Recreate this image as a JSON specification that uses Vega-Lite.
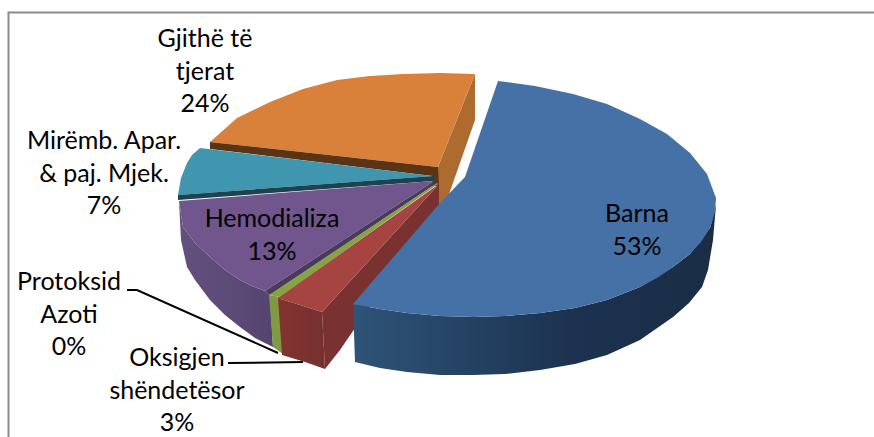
{"$schema":"https://vega.github.io/schema/vega-lite/v6.json","width":874,"height":437,"padding":0,"autosize":{"type":"none"},"background":"white","view":{"stroke":null},
"datasets":{"outline":[
{"f":"frame","i":0,"x":8.5,"y":437},{"f":"frame","i":1,"x":8.5,"y":12.5},{"f":"frame","i":2,"x":874,"y":12.5},
{"f":"oside","i":0,"x":475,"y":74},{"f":"oside","i":1,"x":475,"y":120},{"f":"oside","i":2,"x":447,"y":200},{"f":"oside","i":3,"x":438,"y":208},{"f":"oside","i":4,"x":438,"y":167},
{"f":"otop","i":0,"x":475,"y":74},{"f":"otop","i":1,"x":440,"y":73},{"f":"otop","i":2,"x":403,"y":74},{"f":"otop","i":3,"x":370,"y":76},{"f":"otop","i":4,"x":337,"y":80},{"f":"otop","i":5,"x":303,"y":89},{"f":"otop","i":6,"x":270,"y":102},{"f":"otop","i":7,"x":237,"y":118},{"f":"otop","i":8,"x":210,"y":142},{"f":"otop","i":9,"x":438,"y":167},
{"f":"ostrip","i":0,"x":210,"y":142},{"f":"ostrip","i":1,"x":438,"y":167},{"f":"ostrip","i":2,"x":439,"y":186},{"f":"ostrip","i":3,"x":432,"y":186},{"f":"ostrip","i":4,"x":432,"y":176},{"f":"ostrip","i":5,"x":210,"y":149},
{"f":"ttop","i":0,"x":200,"y":148},{"f":"ttop","i":1,"x":192,"y":155},{"f":"ttop","i":2,"x":187,"y":163},{"f":"ttop","i":3,"x":181,"y":178},{"f":"ttop","i":4,"x":178,"y":195},{"f":"ttop","i":5,"x":433,"y":176},
{"f":"tstrip","i":0,"x":178,"y":195},{"f":"tstrip","i":1,"x":433,"y":176},{"f":"tstrip","i":2,"x":434,"y":181},{"f":"tstrip","i":3,"x":178,"y":200},
{"f":"pside","i":0,"x":179,"y":201},{"f":"pside","i":1,"x":183,"y":227},{"f":"pside","i":2,"x":195,"y":243},{"f":"pside","i":3,"x":210,"y":257},{"f":"pside","i":4,"x":225,"y":270},{"f":"pside","i":5,"x":240,"y":280},{"f":"pside","i":6,"x":252,"y":286},{"f":"pside","i":7,"x":265,"y":291},{"f":"pside","i":8,"x":270,"y":295},{"f":"pside","i":9,"x":273,"y":347},{"f":"pside","i":10,"x":255,"y":338},{"f":"pside","i":11,"x":240,"y":327},{"f":"pside","i":12,"x":225,"y":315},{"f":"pside","i":13,"x":210,"y":300},{"f":"pside","i":14,"x":195,"y":280},{"f":"pside","i":15,"x":187,"y":267},{"f":"pside","i":16,"x":181,"y":240},
{"f":"ptop","i":0,"x":179,"y":201},{"f":"ptop","i":1,"x":183,"y":227},{"f":"ptop","i":2,"x":195,"y":243},{"f":"ptop","i":3,"x":210,"y":257},{"f":"ptop","i":4,"x":225,"y":270},{"f":"ptop","i":5,"x":240,"y":280},{"f":"ptop","i":6,"x":252,"y":286},{"f":"ptop","i":7,"x":265,"y":291},{"f":"ptop","i":8,"x":434,"y":181},
{"f":"pstrip","i":0,"x":265,"y":291},{"f":"pstrip","i":1,"x":270,"y":295},{"f":"pstrip","i":2,"x":437,"y":183},{"f":"pstrip","i":3,"x":434,"y":181},
{"f":"gside","i":0,"x":269,"y":295},{"f":"gside","i":1,"x":280,"y":297},{"f":"gside","i":2,"x":283,"y":354},{"f":"gside","i":3,"x":273,"y":347},
{"f":"gtop","i":0,"x":269,"y":295},{"f":"gtop","i":1,"x":280,"y":297},{"f":"gtop","i":2,"x":438,"y":184},{"f":"gtop","i":3,"x":437,"y":183},
{"f":"rright","i":0,"x":439,"y":184},{"f":"rright","i":1,"x":439,"y":205},{"f":"rright","i":2,"x":340,"y":350},{"f":"rright","i":3,"x":325,"y":369},{"f":"rright","i":4,"x":322,"y":312},
{"f":"rtop","i":0,"x":439,"y":184},{"f":"rtop","i":1,"x":278,"y":298},{"f":"rtop","i":2,"x":322,"y":312},
{"f":"rfront","i":0,"x":278,"y":298},{"f":"rfront","i":1,"x":322,"y":312},{"f":"rfront","i":2,"x":325,"y":369},{"f":"rfront","i":3,"x":305,"y":362},{"f":"rfront","i":4,"x":282,"y":355},
{"f":"bside","i":0,"x":353,"y":304},{"f":"bside","i":1,"x":380,"y":309},{"f":"bside","i":2,"x":407,"y":313},{"f":"bside","i":3,"x":440,"y":316},{"f":"bside","i":4,"x":473,"y":317},{"f":"bside","i":5,"x":505,"y":316},{"f":"bside","i":6,"x":540,"y":313},{"f":"bside","i":7,"x":575,"y":308},{"f":"bside","i":8,"x":607,"y":300},{"f":"bside","i":9,"x":640,"y":287},{"f":"bside","i":10,"x":673,"y":267},{"f":"bside","i":11,"x":690,"y":254},{"f":"bside","i":12,"x":710,"y":228},{"f":"bside","i":13,"x":716,"y":205},{"f":"bside","i":14,"x":713,"y":240},{"f":"bside","i":15,"x":708,"y":270},{"f":"bside","i":16,"x":702,"y":287},{"f":"bside","i":17,"x":689,"y":303},{"f":"bside","i":18,"x":673,"y":317},{"f":"bside","i":19,"x":640,"y":340},{"f":"bside","i":20,"x":607,"y":355},{"f":"bside","i":21,"x":575,"y":364},{"f":"bside","i":22,"x":540,"y":370},{"f":"bside","i":23,"x":505,"y":374},{"f":"bside","i":24,"x":473,"y":375},{"f":"bside","i":25,"x":440,"y":375},{"f":"bside","i":26,"x":407,"y":372},{"f":"bside","i":27,"x":380,"y":368},{"f":"bside","i":28,"x":355,"y":362},
{"f":"btop","i":0,"x":498,"y":81},{"f":"btop","i":1,"x":535,"y":86},{"f":"btop","i":2,"x":573,"y":94},{"f":"btop","i":3,"x":607,"y":104},{"f":"btop","i":4,"x":640,"y":119},{"f":"btop","i":5,"x":667,"y":134},{"f":"btop","i":6,"x":690,"y":153},{"f":"btop","i":7,"x":707,"y":174},{"f":"btop","i":8,"x":716,"y":198},{"f":"btop","i":9,"x":715,"y":212},{"f":"btop","i":10,"x":710,"y":228},{"f":"btop","i":11,"x":701,"y":242},{"f":"btop","i":12,"x":690,"y":254},{"f":"btop","i":13,"x":673,"y":267},{"f":"btop","i":14,"x":657,"y":278},{"f":"btop","i":15,"x":640,"y":287},{"f":"btop","i":16,"x":607,"y":300},{"f":"btop","i":17,"x":575,"y":308},{"f":"btop","i":18,"x":540,"y":313},{"f":"btop","i":19,"x":505,"y":316},{"f":"btop","i":20,"x":473,"y":317},{"f":"btop","i":21,"x":440,"y":316},{"f":"btop","i":22,"x":407,"y":313},{"f":"btop","i":23,"x":380,"y":309},{"f":"btop","i":24,"x":353,"y":304},{"f":"btop","i":25,"x":440,"y":203},{"f":"btop","i":26,"x":465,"y":177},
{"f":"lead1","i":0,"x":127,"y":290},{"f":"lead1","i":1,"x":137,"y":290},{"f":"lead1","i":2,"x":278,"y":353},
{"f":"lead2","i":0,"x":228,"y":363},{"f":"lead2","i":1,"x":303,"y":362}
],
"slices":[
{"name":"Barna","share":53,"label":"Barna\n53%","x":637,"y":214},
{"name":"Gjithë të tjerat","share":24,"label":"Gjithë të\ntjerat\n24%","x":205,"y":39},
{"name":"Mirëmb. Apar. & paj. Mjek.","share":7,"label":"Mirëmb. Apar.\n& paj. Mjek.\n7%","x":104,"y":141},
{"name":"Hemodializa","share":13,"label":"Hemodializa\n13%","x":272,"y":219},
{"name":"Protoksid Azoti","share":0,"label":"Protoksid\nAzoti\n0%","x":69,"y":282},
{"name":"Oksigjen shëndetësor","share":3,"label":"Oksigjen\nshëndetësor\n3%","x":177,"y":358}
]},
"data":{"name":"outline"},
"encoding":{"x":{"field":"x","type":"quantitative","scale":{"domain":[0,874],"nice":false,"zero":false},"axis":null},"y":{"field":"y","type":"quantitative","scale":{"domain":[437,0],"nice":false,"zero":false},"axis":null},"order":{"field":"i","type":"quantitative"}},
"layer":[
{"transform":[{"filter":"datum.f=='oside'"}],"mark":{"type":"line","fill":"#AE6B30","stroke":null}},
{"transform":[{"filter":"datum.f=='otop'"}],"mark":{"type":"line","fill":"#D9813B","stroke":null}},
{"transform":[{"filter":"datum.f=='ostrip'"}],"mark":{"type":"line","fill":"#5B3416","stroke":null}},
{"transform":[{"filter":"datum.f=='ttop'"}],"mark":{"type":"line","fill":"#3F96AE","stroke":null}},
{"transform":[{"filter":"datum.f=='tstrip'"}],"mark":{"type":"line","fill":"#1B4450","stroke":null}},
{"transform":[{"filter":"datum.f=='pside'"}],"mark":{"type":"line","stroke":null,"fill":{"gradient":"linear","x1":0,"x2":1,"y1":0,"y2":0,"stops":[{"offset":0,"color":"#64507F"},{"offset":1,"color":"#554470"}]}}},
{"transform":[{"filter":"datum.f=='ptop'"}],"mark":{"type":"line","fill":"#71568D","stroke":null}},
{"transform":[{"filter":"datum.f=='pstrip'"}],"mark":{"type":"line","fill":"#4A3A5E","stroke":null}},
{"transform":[{"filter":"datum.f=='gside'"}],"mark":{"type":"line","fill":"#7F9A42","stroke":null}},
{"transform":[{"filter":"datum.f=='gtop'"}],"mark":{"type":"line","fill":"#84A446","stroke":null}},
{"transform":[{"filter":"datum.f=='rright'"}],"mark":{"type":"line","fill":"#7A3230","stroke":null}},
{"transform":[{"filter":"datum.f=='rtop'"}],"mark":{"type":"line","fill":"#A54441","stroke":null}},
{"transform":[{"filter":"datum.f=='rfront'"}],"mark":{"type":"line","stroke":null,"fill":{"gradient":"linear","x1":0,"x2":1,"y1":0,"y2":0,"stops":[{"offset":0,"color":"#83342F"},{"offset":1,"color":"#753030"}]}}},
{"transform":[{"filter":"datum.f=='bside'"}],"mark":{"type":"line","stroke":null,"fill":{"gradient":"linear","x1":0,"x2":1,"y1":0,"y2":0,"stops":[{"offset":0,"color":"#2E5478"},{"offset":0.6,"color":"#1C3250"},{"offset":1,"color":"#1A2D45"}]}}},
{"transform":[{"filter":"datum.f=='btop'"}],"mark":{"type":"line","fill":"#4571A6","stroke":null}},
{"transform":[{"filter":"datum.f=='lead1'"}],"mark":{"type":"line","stroke":"#000000","strokeWidth":2}},
{"transform":[{"filter":"datum.f=='lead2'"}],"mark":{"type":"line","stroke":"#000000","strokeWidth":2}},
{"transform":[{"filter":"datum.f=='frame'"}],"mark":{"type":"line","stroke":"#8C8C8C","strokeWidth":2}},
{"data":{"name":"slices"},"mark":{"type":"text","font":"Lato","fontSize":25,"color":"#000000","align":"center","baseline":"middle","lineBreak":"\n","lineHeight":32.5},"encoding":{"text":{"field":"label","type":"nominal"},"order":{"field":"share","type":"quantitative"}}}
]}
